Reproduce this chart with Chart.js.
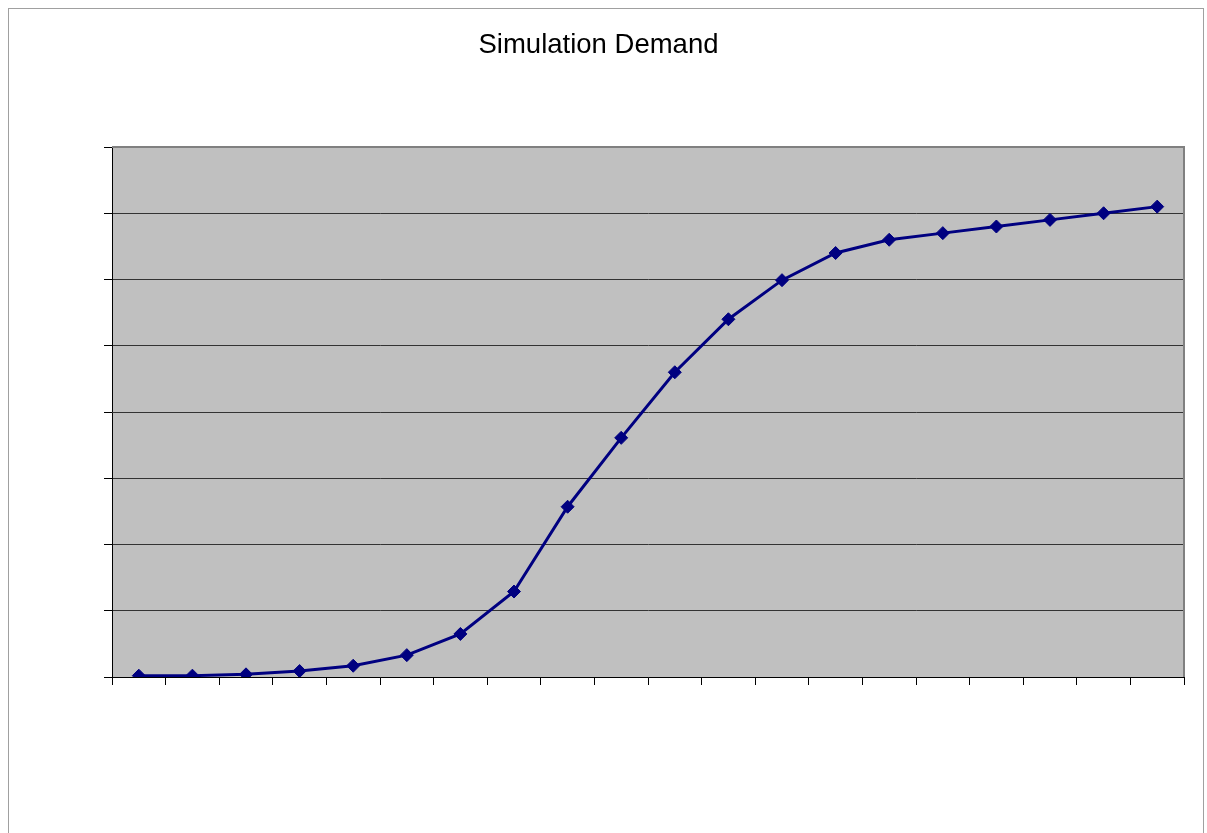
<!DOCTYPE html>
<html>
<head>
<meta charset="utf-8">
<script src="https://cdn.jsdelivr.net/npm/chart.js@4/dist/chart.umd.min.js"></script>
<style>
  html, body { margin: 0; padding: 0; background: #ffffff; }
  canvas { display: block; }
</style>
</head>
<body>
<canvas id="c" width="1207" height="833"></canvas>
<script>
// ---- data ----
const titleText = "Simulation Demand";
const categories = ["1","2","3","4","5","6","7","8","9","10","11","12","13","14","15","16","17","18","19","20"];
const demand = [0.02, 0.02, 0.04, 0.09, 0.17, 0.33, 0.65, 1.29, 2.57, 3.61, 4.60, 5.40, 5.99, 6.40, 6.60, 6.70, 6.80, 6.90, 7.00, 7.10];
const yMin = 0;
const yMax = 8;
const yStep = 1;

const frame = {
  id: 'frame',
  beforeDraw(chart) {
    const ctx = chart.ctx;
    const a = chart.chartArea;
    ctx.save();
    ctx.fillStyle = '#ffffff';
    ctx.fillRect(0, 0, chart.width, chart.height);
    ctx.strokeStyle = '#a0a0a0';
    ctx.lineWidth = 1;
    ctx.strokeRect(8.5, 8.5, chart.width - 12, chart.height + 100);
    ctx.fillStyle = '#c0c0c0';
    ctx.fillRect(a.left, a.top, a.right - a.left, a.bottom - a.top);
    ctx.restore();
  },
  beforeDatasetsDraw(chart) {
    const ctx = chart.ctx;
    const a = chart.chartArea;
    ctx.save();
    ctx.strokeStyle = '#808080';
    ctx.lineWidth = 2;
    ctx.beginPath();
    ctx.moveTo(a.left, a.top);
    ctx.lineTo(a.right, a.top);
    ctx.lineTo(a.right, a.bottom);
    ctx.stroke();
    ctx.restore();
  }
};

new Chart(document.getElementById('c'), {
  type: 'line',
  data: {
    labels: categories,
    datasets: [{
      label: 'Demand',
      data: demand,
      borderColor: '#000080',
      backgroundColor: '#000080',
      borderWidth: 3,
      pointStyle: 'rectRot',
      pointRadius: 6.5,
      pointBorderWidth: 1,
      pointBackgroundColor: '#000080',
      pointBorderColor: '#000080',
      tension: 0,
      fill: false
    }]
  },
  options: {
    responsive: false,
    animation: false,
    events: [],
    layout: { padding: { left: 0, right: 10, top: 0, bottom: 148 } },
    plugins: {
      legend: { display: false },
      tooltip: { enabled: false },
      title: {
        display: true,
        text: titleText,
        color: '#000000',
        font: { family: '"Liberation Sans", Arial, sans-serif', size: 27.5, weight: 'normal', lineHeight: 1.2 },
        padding: { top: 29, bottom: 85 }
      }
    },
    scales: {
      x: {
        offset: true,
        grid: {
          offset: true,
          drawOnChartArea: false,
          drawTicks: true,
          tickLength: 8,
          tickColor: '#000000',
          tickWidth: 1
        },
        border: { display: true, color: '#000000', width: 1 },
        ticks: { display: false }
      },
      y: {
        min: yMin,
        max: yMax,
        afterFit: (scale) => { scale.width = 112; },
        ticks: { display: false, stepSize: yStep },
        grid: {
          color: (ctx) => (ctx.tick && ctx.tick.value === yMax) ? '#808080' : '#333333',
          lineWidth: 1,
          drawTicks: true,
          tickLength: 8,
          tickColor: '#000000'
        },
        border: { display: true, color: '#000000', width: 1 }
      },
      yRight: {
        position: 'right',
        min: yMin,
        max: yMax,
        afterFit: (scale) => { scale.width = 13; },
        ticks: { display: false },
        grid: { display: false, drawTicks: false },
        border: { display: false }
      }
    }
  },
  plugins: [frame]
});
</script>
</body>
</html>
